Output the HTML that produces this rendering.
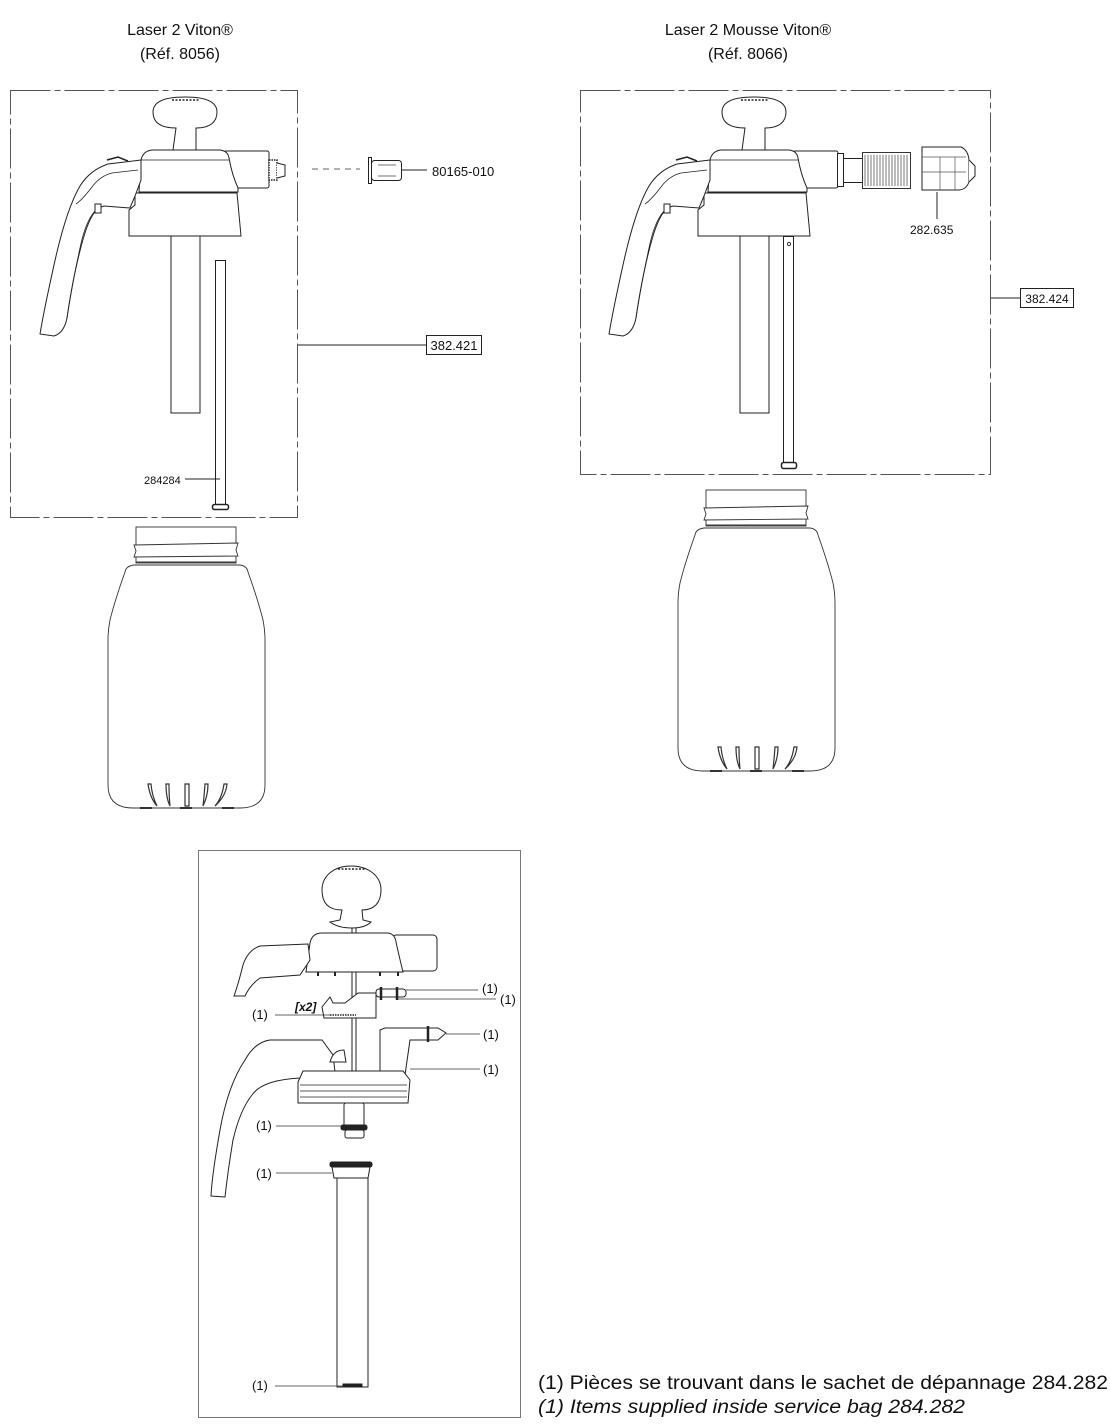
<!DOCTYPE html>
<html><head><meta charset="utf-8"><style>
html,body{margin:0;padding:0;background:#fff;}
svg{display:block;}
text{font-family:"Liberation Sans",sans-serif;fill:#111;}
</style></head><body>
<svg width="1110" height="1428" viewBox="0 0 1110 1428" xmlns="http://www.w3.org/2000/svg">
<defs>
<g id="head" fill="#fff" stroke="#222" stroke-width="1">
  <path d="M176,128 C160,128 153,122 153,112 C153,100 168,97 185,97 C202,97 217,100 217,112 C217,122 210,128 196,128 L196,150 L173,150 Z"/>
  <path d="M172,100 L200,100" stroke-dasharray="2,1.5" stroke-width="1.5"/>
  <rect x="224" y="151" width="45" height="37" rx="2"/>
  <path d="M141,160 Q143,151 152,150 L220,150 Q228,151 229,158 Q232,175 238,188 L238,192 L139,192 L141,160 Z"/>
  <path d="M141,160 L229,160" stroke-width="0.8"/>
  <path d="M135,193 L237,193 L241,236 L129,236 L129,210 L135,205 Z"/>
  <path d="M141,160 L108,164 Q90,170 80,186 Q66,210 54,265 Q44,310 40,334 L54,336 Q64,333 67,318 Q74,270 84,236 Q90,216 98,208 L104,206 L130,208 L135,196 L141,180 Z"/>
  <path d="M138,170 L112,173 Q100,176 92,187 Q82,200 76,204" fill="none" stroke-width="0.8"/>
  <path d="M98,208 Q86,218 80,248 Q71,290 67,318" fill="none" stroke-width="0.8"/>
  <rect x="95" y="204" width="6" height="9"/>
  <path d="M107,160 L118,157 L128,161" fill="none" stroke-width="1.5"/>
  <rect x="171" y="236" width="29" height="177"/>
</g>
<g id="bottle" fill="#fff" stroke="#333" stroke-width="0.9">
  <rect x="136" y="527" width="100" height="36"/>
  <path d="M134,545 L238,543 L236,550 L238,556 L134,557 L136,551 Z"/>
  <path d="M136,562 L236,562"/>
  <path d="M134,565 L240,565 Q247,566 248,572 Q258,600 263,620 Q265,630 265,640 L265,785 Q265,808 240,808 L133,808 Q108,808 108,785 L108,640 Q108,630 110,620 Q115,600 125,572 Q126,566 134,565 Z"/>
  <g stroke-width="1.2">
    <path d="M148,784 Q150,798 157,806 Q152,796 151,784 Z"/>
    <path d="M166,784 Q166,798 170,806 Q169,796 169,784 Z"/>
    <path d="M185,784 L185,806 L189,806 L189,784 Z"/>
    <path d="M205,784 Q204,798 203,806 Q208,796 208,784 Z"/>
    <path d="M224,784 Q222,798 215,806 Q226,796 227,784 Z"/>
  </g>
  <path d="M140,808 L152,808 M180,808 L192,808 M222,808 L234,808" stroke-width="2"/>
</g>
</defs>

<text x="180" y="35" font-size="16" text-anchor="middle">Laser 2 Viton®</text>
<text x="180" y="59" font-size="16" text-anchor="middle">(Réf. 8056)</text>
<text x="748" y="35" font-size="16" text-anchor="middle">Laser 2 Mousse Viton®</text>
<text x="748" y="59" font-size="16" text-anchor="middle">(Réf. 8066)</text>

<rect x="10.5" y="90.5" width="287" height="427" fill="none" stroke="#555" stroke-width="1" stroke-dasharray="40,4,6,4"/>
<use href="#head"/>
<rect x="269" y="160" width="8" height="20" fill="#fff" stroke="#222" stroke-width="1.5" stroke-dasharray="1.5,1"/>
<path d="M277,163 L285,165 L285,176 L277,178" fill="#fff" stroke="#222"/>
<rect x="215.5" y="260.5" width="10" height="244" fill="#fff" stroke="#222"/>
<rect x="212.5" y="504.5" width="16" height="5" rx="2" fill="#fff" stroke="#222" stroke-width="1.5"/>
<line x1="312" y1="169" x2="360" y2="169" stroke="#666" stroke-dasharray="6,5"/>
<rect x="368.5" y="157.5" width="3" height="26" fill="#fff" stroke="#222"/>
<rect x="371.5" y="160.5" width="30" height="20" rx="3" fill="#fff" stroke="#222"/>
<path d="M378,165 L396,165 M378,176 L396,176" stroke="#444" stroke-width="0.8"/>
<line x1="402" y1="170" x2="427" y2="170" stroke="#222"/>
<text x="432" y="176" font-size="13">80165-010</text>
<line x1="298" y1="345" x2="426" y2="345" stroke="#222"/>
<rect x="426.5" y="335.5" width="55" height="19" fill="#fff" stroke="#222"/>
<text x="454" y="350" font-size="13" text-anchor="middle">382.421</text>
<text x="144" y="484" font-size="11">284284</text>
<line x1="185" y1="479" x2="220" y2="479" stroke="#222"/>

<use href="#bottle"/>

<rect x="580.5" y="90.5" width="410" height="384" fill="none" stroke="#555" stroke-width="1" stroke-dasharray="40,4,6,4"/>
<g transform="translate(569,0)">
  <use href="#head"/>
</g>
<rect x="837.5" y="153.5" width="6" height="33" fill="#fff" stroke="#222"/>
<rect x="843.5" y="158.5" width="19" height="24" fill="#fff" stroke="#222"/>
<rect x="862.5" y="152.5" width="48" height="36" fill="#fff" stroke="#333"/>
<path d="M865,155 L865,186 M868,155 L868,186 M871,155 L871,186 M874,155 L874,186 M877,155 L877,186 M880,155 L880,186 M883,155 L883,186 M886,155 L886,186 M889,155 L889,186 M892,155 L892,186 M895,155 L895,186 M898,155 L898,186 M901,155 L901,186 M904,155 L904,186 M907,155 L907,186" stroke="#777" stroke-width="1"/>
<path d="M922,147 L961,147 Q968,150 969,160 L969,182 Q966,190 958,190 L922,190 Z" fill="#fff" stroke="#222"/>
<path d="M922,157 L966,157 M922,172 L966,172 M940,157 L940,190 M955,157 L955,190" stroke="#555" stroke-width="0.7" fill="none"/>
<path d="M969,160 L975,166 L975,176 L969,182" fill="#fff" stroke="#222"/>
<line x1="937" y1="192" x2="937" y2="219" stroke="#222"/>
<text x="910" y="234" font-size="12">282.635</text>
<rect x="783.5" y="236.5" width="10" height="226" fill="#fff" stroke="#222"/>
<circle cx="789" cy="244" r="1.6" fill="none" stroke="#333"/>
<rect x="781.5" y="462.5" width="15" height="6" rx="2" fill="#fff" stroke="#222" stroke-width="1.5"/>
<line x1="991" y1="298" x2="1020" y2="298" stroke="#222"/>
<rect x="1020.5" y="288.5" width="53" height="19" fill="#fff" stroke="#222"/>
<text x="1047" y="303" font-size="12" text-anchor="middle">382.424</text>

<g transform="translate(570,-37)"><use href="#bottle"/></g>

<rect x="198.5" y="850.5" width="322" height="567" fill="none" stroke="#777" stroke-width="1"/>
<g fill="#fff" stroke="#222" stroke-width="1">
  <rect x="352" y="918" width="4" height="185"/>
  <path d="M342,910 C328,910 322,903 322,890 C322,875 335,866 351,866 C367,866 381,875 381,890 C381,903 374,910 362,910 L363,920 L371,922 Q365,928 352,928 Q338,928 330,922 L340,920 Z"/>
  <path d="M338,869 L365,869" stroke-dasharray="2,1.5" stroke-width="1.5"/>
  <rect x="392" y="935" width="45" height="36" rx="4"/>
  <path d="M310,943 Q312,933 322,933 L388,933 Q395,934 396,942 Q400,960 403,972 L306,972 Z"/>
  <path d="M308,944 L260,946 Q248,950 243,965 Q238,985 234,996 L245,996 Q250,985 260,978 L300,975 L310,960 Z"/>
  <path d="M318,972 L318,976 M335,972 L335,976 M380,972 L380,976 M398,972 L398,976" stroke-width="2"/>
  <path d="M322,1007 L330,997 L333,1003 L345,1003 L358,993 L376,993 L376,1018 L324,1018 Z"/>
  <path d="M330,1015 L356,1015" stroke-dasharray="1.5,1" stroke-width="1.5"/>
  <rect x="376" y="989" width="30" height="8" rx="3"/>
  <path d="M381,987 L381,1000 M397,987 L397,1000" stroke-width="2.5"/>
  <path d="M270,1040 Q255,1042 245,1060 Q228,1085 220,1130 Q212,1175 211,1196 L225,1197 Q228,1170 233,1140 Q240,1110 252,1095 Q262,1080 300,1078 L335,1072 L333,1055 L322,1040 Z"/>
  <path d="M330,1062 Q333,1050 344,1050 L346,1062 Z"/>
  <path d="M380,1030 L380,1075 L405,1075 L410,1040 L438,1040 L446,1033 L438,1028 L385,1028 Z"/>
  <path d="M428,1026 L428,1042" stroke-width="2.5"/>
  <path d="M303,1071 L403,1071 L410,1080 L408,1103 L298,1103 L298,1082 Z"/>
  <path d="M300,1085 L407,1085 M300,1091 L407,1091 M300,1097 L407,1097" stroke-width="0.7"/>
  <rect x="344" y="1103" width="20" height="25" rx="2"/>
  <rect x="341" y="1125" width="26" height="5" rx="2" fill="#222"/>
  <rect x="345" y="1130" width="19" height="8" rx="2"/>
  <rect x="330" y="1162" width="42" height="5" rx="2" fill="#222"/>
  <path d="M332,1167 L370,1167 L368,1178 L334,1178 Z"/>
  <rect x="337" y="1178" width="31" height="209"/>
  <rect x="343" y="1384" width="19" height="3" fill="#222"/>
</g>
<text x="295" y="1011" font-size="12" font-style="italic" font-weight="bold">[x2]</text>
<g font-size="13">
  <text x="482" y="993">(1)</text>
  <text x="500" y="1004">(1)</text>
  <text x="252" y="1019">(1)</text>
  <text x="483" y="1039">(1)</text>
  <text x="483" y="1074">(1)</text>
  <text x="256" y="1130">(1)</text>
  <text x="256" y="1178">(1)</text>
  <text x="252" y="1390">(1)</text>
</g>
<g stroke="#333" stroke-width="0.8">
  <line x1="406" y1="990" x2="478" y2="990"/>
  <line x1="398" y1="999" x2="496" y2="999"/>
  <line x1="275" y1="1015" x2="330" y2="1015"/>
  <line x1="446" y1="1034" x2="480" y2="1034"/>
  <line x1="410" y1="1069" x2="480" y2="1069"/>
  <line x1="276" y1="1126" x2="341" y2="1126"/>
  <line x1="276" y1="1173" x2="332" y2="1173"/>
  <line x1="275" y1="1386" x2="343" y2="1386"/>
</g>

<text x="538" y="1389" font-size="19" textLength="570" lengthAdjust="spacingAndGlyphs">(1) Pièces se trouvant dans le sachet de dépannage 284.282</text>
<text x="538" y="1413" font-size="19" font-style="italic" textLength="427" lengthAdjust="spacingAndGlyphs">(1) Items supplied inside service bag 284.282</text>
</svg>
</body></html>
